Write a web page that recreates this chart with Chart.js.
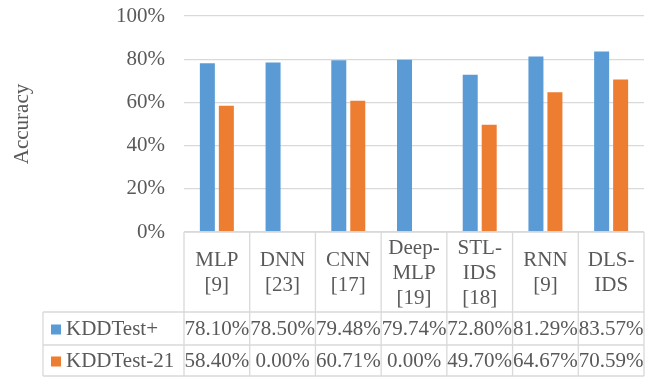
<!DOCTYPE html>
<html>
<head>
<meta charset="utf-8">
<script src="https://cdn.jsdelivr.net/npm/chart.js@4/dist/chart.umd.min.js"></script>
<style>
  html, body { margin: 0; padding: 0; background: #fff; }
  #wrap { width: 654px; height: 377px; position: relative; }
</style>
</head>
<body>
<div id="wrap"><canvas id="c"></canvas></div>
<script>
const categories = [
  ['MLP', '[9]'],
  ['DNN', '[23]'],
  ['CNN', '[17]'],
  ['Deep-', 'MLP', '[19]'],
  ['STL-', 'IDS', '[18]'],
  ['RNN', '[9]'],
  ['DLS-', 'IDS']
];
const seriesNames = ['KDDTest+', 'KDDTest-21'];
const kddTestPlus = [78.10, 78.50, 79.48, 79.74, 72.80, 81.29, 83.57];
const kddTest21 = [58.40, 0.00, 60.71, 0.00, 49.70, 64.67, 70.59];
const yTicks = [0, 20, 40, 60, 80, 100];
const colors = ['#5B9BD5', '#ED7D31'];

const FONT = '"Liberation Serif", "Times New Roman", serif';
const TEXT = '#595959';
const LINE = '#D9D9D9';
const FS = 21;

const tablePlugin = {
  id: 'dataTable',
  afterDraw(chart) {
    const ctx = chart.ctx;
    const x = chart.scales.x;
    const area = chart.chartArea;
    const n = categories.length;
    const cw = (area.right - area.left) / n;
    const top = area.bottom;
    const r1 = top + 80, r2 = r1 + 33, r3 = r2 + 31;
    const legendLeft = 43;
    ctx.save();
    ctx.strokeStyle = LINE;
    ctx.lineWidth = 1.3;
    ctx.beginPath();
    ctx.moveTo(area.left, top); ctx.lineTo(area.right, top);
    [r1, r2, r3].forEach(yy => { ctx.moveTo(legendLeft, yy); ctx.lineTo(area.right, yy); });
    for (let i = 0; i <= n; i++) {
      const xx = area.left + i * cw;
      ctx.moveTo(xx, top); ctx.lineTo(xx, r3);
    }
    ctx.moveTo(legendLeft, r1); ctx.lineTo(legendLeft, r3);
    ctx.stroke();

    ctx.fillStyle = TEXT;
    ctx.font = FS + 'px ' + FONT;
    ctx.textAlign = 'center';
    ctx.textBaseline = 'middle';
    const lh = 25;
    categories.forEach((lines, i) => {
      const cx = x.getPixelForValue(i);
      const cy = (top + r1) / 2 + 1;
      const start = cy - (lines.length - 1) * lh / 2;
      lines.forEach((t, k) => ctx.fillText(t, cx, start + k * lh));
    });
    const rows = [kddTestPlus, kddTest21];
    const rowY = [(r1 + r2) / 2 + 1, (r2 + r3) / 2 + 1];
    rows.forEach((vals, ri) => {
      vals.forEach((v, i) => {
        ctx.fillText(v.toFixed(2) + '%', x.getPixelForValue(i), rowY[ri]);
      });
      ctx.fillStyle = colors[ri];
      ctx.fillRect(51, rowY[ri] - 5, 10, 10);
      ctx.fillStyle = TEXT;
      ctx.textAlign = 'left';
      ctx.fillText(seriesNames[ri], 66, rowY[ri]);
      ctx.textAlign = 'center';
    });
    ctx.restore();
  }
};

new Chart(document.getElementById('c'), {
  type: 'bar',
  data: {
    labels: categories,
    datasets: [
      { label: seriesNames[0], data: kddTestPlus, backgroundColor: colors[0], borderWidth: 0 },
      { label: seriesNames[1], data: kddTest21, backgroundColor: colors[1], borderWidth: 0 }
    ]
  },
  options: {
    responsive: true,
    maintainAspectRatio: false,
    animation: false,
    categoryPercentage: 0.578,
    barPercentage: 0.79,
    layout: { padding: { top: 16, bottom: 145, left: 0, right: 10 } },
    plugins: { legend: { display: false }, tooltip: { enabled: false } },
    scales: {
      x: { display: false },
      y: {
        min: 0, max: 100,
        afterBuildTicks(scale) { scale.ticks = yTicks.map(v => ({ value: v })); },
        afterFit(scale) {
          scale.width = 184;
          scale.paddingTop = 0;
          scale.paddingBottom = 0;
        },
        ticks: {
          color: TEXT,
          font: { family: FONT, size: FS },
          padding: 19,
          callback: v => v + '%'
        },
        grid: { color: LINE, lineWidth: 1.3, drawTicks: false },
        border: { display: false },
        title: {
          display: true,
          text: 'Accuracy',
          color: TEXT,
          font: { family: FONT, size: FS },
          padding: { top: 10, bottom: 0 }
        }
      }
    }
  },
  plugins: [tablePlugin]
});
</script>
</body>
</html>
